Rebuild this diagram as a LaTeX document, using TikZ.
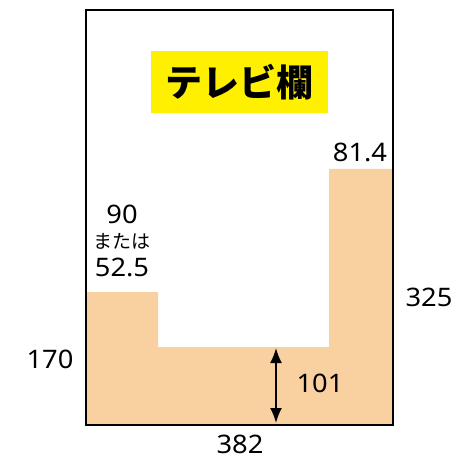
\documentclass[tikz,border=0pt]{standalone}
\usepackage{fontspec}
\setmainfont{Noto Sans CJK JP}
\newfontfamily\numfont[FakeStretch=1.07]{Noto Sans}
\usetikzlibrary{arrows.meta}
\definecolor{fillorange}{RGB}{249,208,160}
\definecolor{titleyellow}{RGB}{255,240,0}
\tikzset{
  dim/.style={font=\numfont\fontsize{25.5}{28}\selectfont, inner sep=0pt},
  small/.style={font=\fontsize{19}{21}\selectfont, inner sep=0pt},
  dimarrow/.style={line width=1.8pt, {Latex[length=15pt,width=12pt]}-{Latex[length=15pt,width=12pt]}},
}
\begin{document}
\begin{tikzpicture}[x=1pt,y=-1pt]
\useasboundingbox (0,0) rectangle (462,462);
% orange region
\fill[fillorange] (87,292) -- (158,292) -- (158,347) -- (329,347) -- (329,169) -- (392,169) -- (392,425) -- (87,425) -- cycle;
% outer frame
\draw[line width=2.2pt] (86,10) rectangle (393,425);
% title
\node[fill=titleyellow, minimum width=177pt, minimum height=62pt, inner sep=0pt,
      font=\fontsize{37}{40}\selectfont\bfseries] (title) at (239.5,82) {テレビ欄};
% labels
\node[dim] (l814) at (360,152) {81.4};
\node[dim] (l90) at (122,214) {90};
\node[small] (lor) at (122,241) {または};
\node[dim] (l525) at (122,267) {52.5};
\node[dim] (l325) at (429,297) {325};
\node[dim] (l170) at (50,359) {170};
\node[dim] (l101) at (320,383) {101};
\node[dim] (l382) at (240,444) {382};
% arrow
\coordinate (atop) at (276,348);
\coordinate (abot) at (276,423);
\draw[dimarrow] (atop) -- (abot);
\end{tikzpicture}
\end{document}
